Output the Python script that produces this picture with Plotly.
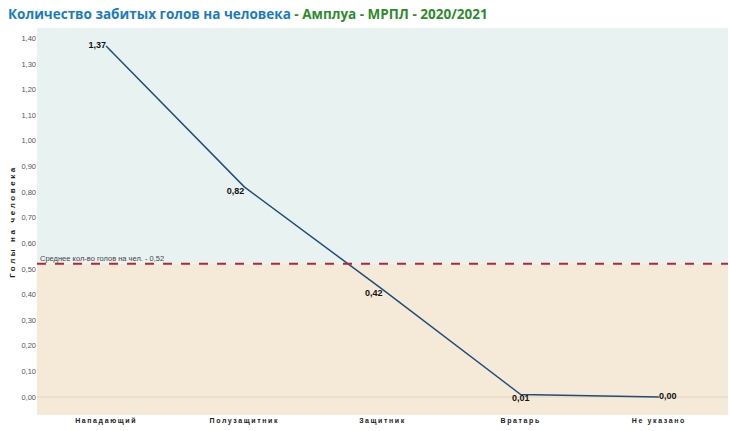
import plotly.graph_objects as go

categories = ["Нападающий", "Полузащитник", "Защитник", "Вратарь", "Не указано"]
values = [1.37, 0.82, 0.42, 0.01, 0.00]
average = 0.52
y_ticks = [0.0, 0.1, 0.2, 0.3, 0.4, 0.5, 0.6, 0.7, 0.8, 0.9, 1.0, 1.1, 1.2, 1.3, 1.4]
label_positions = ["middle left", "bottom left", "bottom left", "bottom center", "middle right"]

y_min, y_max = -0.07, 1.44

fig = go.Figure()
fig.add_trace(go.Scatter(
    x=categories, y=values, mode="lines+text",
    line=dict(color="#1f4e79", width=1.5),
    text=[f"{v:.2f}".replace(".", ",") for v in values],
    textposition=label_positions,
    textfont=dict(family="Arial, Liberation Sans", size=9, color="#111111", weight="bold"),
    hoverinfo="skip", showlegend=False,
))

# background bands
fig.add_shape(type="rect", xref="paper", yref="y", x0=0, x1=1, y0=average, y1=y_max,
              fillcolor="#e8f3f1", line_width=0, layer="below")
fig.add_shape(type="rect", xref="paper", yref="y", x0=0, x1=1, y0=y_min, y1=average,
              fillcolor="#f5e9d8", line_width=0, layer="below")
fig.add_shape(type="line", xref="paper", yref="y", x0=0, x1=1, y0=0, y1=0,
              line=dict(color="#e6d6bf", width=1), layer="below")
# average line
fig.add_shape(type="line", xref="paper", yref="y", x0=0, x1=1, y0=average, y1=average,
              line=dict(color="#b5263a", width=2, dash="dash"))
fig.add_annotation(xref="paper", yref="y", x=0.0, y=average, xanchor="left", yanchor="bottom",
                   text="Среднее кол-во голов на чел. - " + f"{average:.2f}".replace(".", ","),
                   showarrow=False, font=dict(family="Arial, Liberation Sans", size=7.5, color="#444444"),
                   xshift=1, yshift=-1)

# title
fig.add_annotation(xref="paper", yref="paper", x=-0.045, y=1.0, xanchor="left", yanchor="bottom",
                   text="<b><span style='color:#1a7cc0'>Количество забитых голов на человека</span>"
                        "<span style='color:#2e8b2e'> - Амплуа - МРПЛ - 2020/2021</span></b>",
                   showarrow=False, font=dict(family="Open Sans", size=13.5), yshift=3)

fig.update_layout(
    width=730, height=431,
    margin=dict(l=37, r=2, t=28, b=16),
    paper_bgcolor="white", plot_bgcolor="white",
    separators=", ",
    xaxis=dict(showgrid=False, zeroline=False, showline=False, ticks="",
               tickfont=dict(family="Arial, Liberation Sans", size=7, color="#222222", weight="bold"),
               ticklabelstandoff=0, range=[-0.5, 4.5]),
    yaxis=dict(range=[y_min, y_max], tickvals=y_ticks, tickformat=".2f",
               showgrid=False, zeroline=False, showline=False, ticks="",
               tickfont=dict(family="Arial, Liberation Sans", size=7.5, color="#555555"),
               title=dict(text="Голы на человека", standoff=4,
                          font=dict(family="Arial, Liberation Sans", size=8, color="#222222", weight="bold"))),
)

post = (
    "document.body.style.margin='0';document.body.style.overflow='hidden';"
    "document.querySelectorAll('.xtick text').forEach(function(t){t.style.letterSpacing='1.6px';});"
    "document.querySelectorAll('.ytitle').forEach(function(t){t.style.letterSpacing='2.6px';});"
)
fig.write_html("out.html", config={"displayModeBar": False}, post_script=post)
